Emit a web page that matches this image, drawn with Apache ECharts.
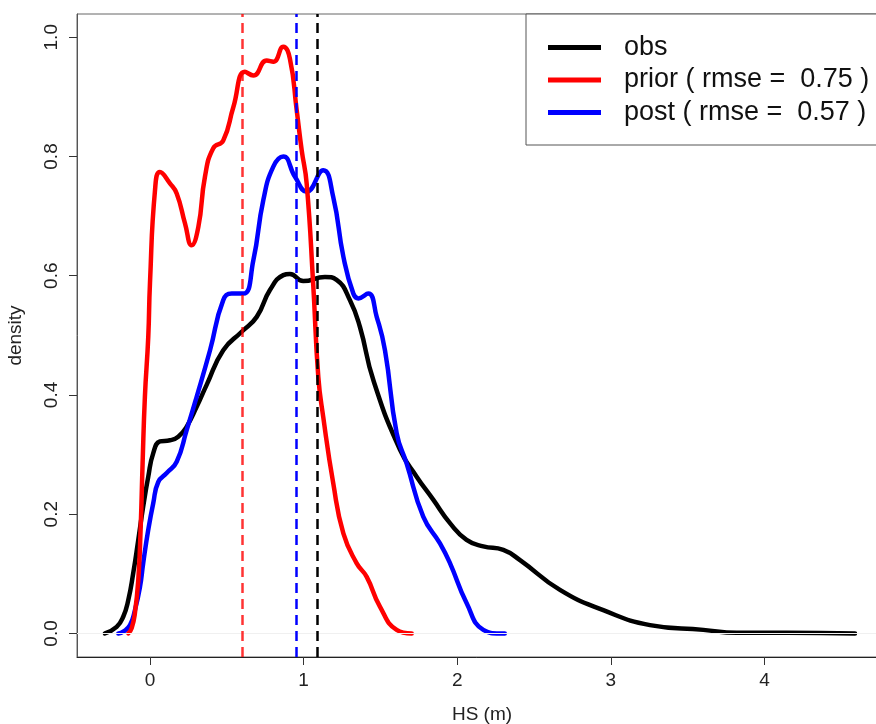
<!DOCTYPE html>
<html>
<head>
<meta charset="utf-8" />
<script src="https://cdn.jsdelivr.net/npm/echarts@6/dist/echarts.min.js"></script>
<style>html,body{margin:0;padding:0;background:#fff}#main{width:876px;height:724px}</style>
</head>
<body>
<div id="main"></div>
<script>
// density curves (x = HS in m, y = density)
var obsX = [-0.293,-0.217,-0.174,-0.141,-0.109,-0.076,-0.044,-0.011,0.021,0.065,0.130,0.184,0.239,0.304,0.369,0.477,0.597,0.695,0.781,0.868,0.911,0.998,1.139,1.215,1.302,1.367,1.454,1.628,1.736,1.845,1.953,2.061,2.170,2.300,2.409,2.669,2.951,3.255,3.602,3.820,4.145,4.590];
var obsY = [0,0.011,0.028,0.056,0.101,0.157,0.213,0.263,0.302,0.322,0.324,0.330,0.347,0.380,0.417,0.475,0.506,0.531,0.576,0.601,0.603,0.591,0.598,0.593,0.559,0.514,0.425,0.308,0.263,0.224,0.185,0.157,0.146,0.140,0.123,0.073,0.039,0.014,0.006,0.001,0.001,0];

var priorX = [-0.141,-0.119,-0.098,-0.076,-0.061,-0.048,-0.033,-0.011,0,0.033,0.065,0.130,0.174,0.228,0.271,0.315,0.358,0.412,0.477,0.543,0.618,0.673,0.760,0.803,0.868,0.911,0.955,0.988,1.020,1.063,1.096,1.128,1.193,1.259,1.345,1.411,1.497,1.606,1.704];
var priorY = [0,0.009,0.034,0.090,0.174,0.285,0.397,0.498,0.587,0.744,0.774,0.755,0.738,0.688,0.651,0.682,0.766,0.814,0.827,0.883,0.942,0.936,0.961,0.959,0.984,0.964,0.878,0.810,0.755,0.584,0.430,0.363,0.252,0.168,0.118,0.095,0.045,0.006,0];

var postX = [-0.206,-0.174,-0.130,-0.098,-0.065,-0.044,-0.011,0.021,0.054,0.109,0.174,0.239,0.304,0.391,0.477,0.532,0.608,0.673,0.738,0.803,0.868,0.944,1.020,1.128,1.193,1.259,1.324,1.357,1.421,1.476,1.530,1.606,1.671,1.779,1.888,1.953,2.061,2.170,2.279,2.310];
var postY = [0,0.003,0.014,0.039,0.078,0.118,0.174,0.218,0.254,0.269,0.288,0.341,0.397,0.475,0.559,0.570,0.570,0.626,0.727,0.783,0.800,0.766,0.741,0.777,0.732,0.632,0.570,0.562,0.570,0.531,0.475,0.336,0.285,0.196,0.151,0.118,0.051,0.006,0,0];

// dashed vertical lines (means)
var obsMean = 1.094;
var priorMean = 0.597;
var postMean = 0.948;

var seriesNames = ['obs', 'prior ( rmse =  0.75 )', 'post ( rmse =  0.57 )'];
var xTicks = [0, 1, 2, 3, 4];
var yTicks = [0, 0.2, 0.4, 0.6, 0.8, 1.0];

function zip(xs, ys) {
    var out = [];
    for (var i = 0; i < xs.length; i++) out.push([xs[i], ys[i]]);
    return out;
}

function vline(v, color) {
    return {xAxis: v, lineStyle: {color: color, width: 2.5, type: [10, 6]}};
}

function curve(name, xs, ys, color, marks) {
    return {
        name: name,
        type: 'line',
        data: zip(xs, ys),
        smooth: 0.5,
        showSymbol: false,
        lineStyle: {color: color, width: 4.5, cap: 'round', join: 'round'},
        itemStyle: {color: color},
        markLine: {
            silent: true,
            symbol: 'none',
            label: {show: false},
            data: marks
        }
    };
}

var font = 'Liberation Sans';
var chart = echarts.init(document.getElementById('main'));
chart.setOption({
    animation: false,
    backgroundColor: '#fff',
    grid: {left: 77, top: 14, width: 810, height: 643, outerBoundsMode: 'none',
        show: true, borderColor: '#666', borderWidth: 1},
    legend: {
        orient: 'vertical',
        left: 526,
        top: 14,
        padding: [20, 40, 19, 22],
        itemGap: 5.5,
        itemWidth: 53,
        itemHeight: 5,
        icon: 'rect',
        backgroundColor: '#fff',
        borderColor: '#555',
        borderWidth: 1,
        borderRadius: 0,
        textStyle: {fontFamily: font, fontSize: 27, lineHeight: 27, color: '#111', padding: [0, 0, 0, 18]},
        data: seriesNames
    },
    xAxis: {
        type: 'value',
        min: -0.475,
        max: 4.798,
        name: 'HS (m)',
        nameLocation: 'middle',
        nameGap: 48,
        nameTextStyle: {fontFamily: font, fontSize: 19, color: '#222'},
        axisLine: {show: true, onZero: false, lineStyle: {color: '#222'}},
        axisTick: {show: true, length: 8, customValues: xTicks, lineStyle: {color: '#333'}},
        axisLabel: {customValues: xTicks, margin: 14, fontFamily: font, fontSize: 19, color: '#222'},
        splitLine: {show: false}
    },
    yAxis: {
        type: 'value',
        min: -0.0395,
        max: 1.039,
        name: 'density',
        nameLocation: 'middle',
        nameGap: 52,
        nameRotate: 90,
        nameTextStyle: {fontFamily: font, fontSize: 19, color: '#222'},
        axisLine: {show: true, onZero: false, lineStyle: {color: '#555'}},
        axisTick: {show: true, length: 8, customValues: yTicks, lineStyle: {color: '#333'}},
        axisLabel: {
            customValues: yTicks,
            rotate: 90,
            margin: 16,
            fontFamily: font,
            fontSize: 19,
            color: '#222',
            formatter: function (v) { return v.toFixed(1); }
        },
        splitLine: {show: false}
    },
    series: [
        curve(seriesNames[0], obsX, obsY, '#000000', [
            {yAxis: 0, lineStyle: {color: '#f0f0f0', width: 1, type: 'solid'}},
            vline(obsMean, '#000000')
        ]),
        curve(seriesNames[2], postX, postY, '#0000ff', [vline(postMean, '#0000ff')]),
        curve(seriesNames[1], priorX, priorY, '#ff0000', [vline(priorMean, 'rgba(255,0,0,0.8)')])
    ]
});
</script>
</body>
</html>
